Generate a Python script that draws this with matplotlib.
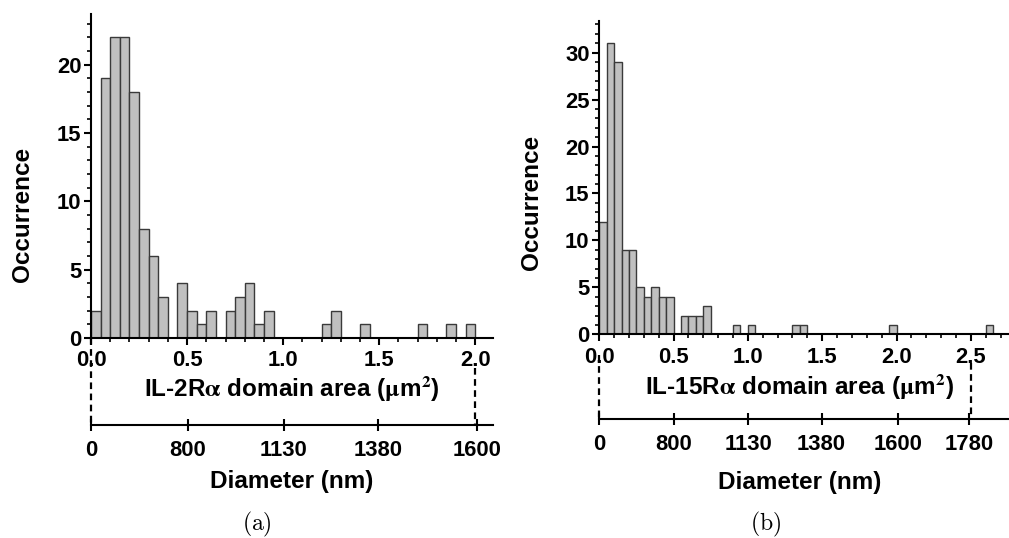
import numpy as np
import matplotlib
matplotlib.use("Agg")
import matplotlib.pyplot as plt
from matplotlib.ticker import MultipleLocator
from matplotlib.transforms import blended_transform_factory

# ---- data -----------------------------------------------------------------
BIN_W = 0.05  # histogram bin width (um^2)

# IL-2Ra domain areas, counts per 0.05 um^2 bin starting at 0
counts_il2 = [2, 19, 22, 22, 18, 8, 6, 3, 0, 4,
              2, 1, 2, 0, 2, 3, 4, 1, 2, 0,
              0, 0, 0, 0, 1, 2, 0, 0, 1, 0,
              0, 0, 0, 0, 1, 0, 0, 1, 0, 1]

# IL-15Ra domain areas, counts per 0.05 um^2 bin starting at 0
counts_il15 = [12, 31, 29, 9, 9, 5, 4, 5, 4, 4,
               0, 2, 2, 2, 3, 0, 0, 0, 1, 0,
               1, 0, 0, 0, 0, 0, 1, 1, 0, 0,
               0, 0, 0, 0, 0, 0, 0, 0, 0, 1,
               0, 0, 0, 0, 0, 0, 0, 0, 0, 0,
               0, 0, 1]

diam_ticks_il2 = [0, 800, 1130, 1380, 1600]
diam_ticks_il15 = [0, 800, 1130, 1380, 1600, 1780]

xlabel_il2 = r"IL-2R$\mathrm{\alpha}$ domain area ($\mathrm{\mu}$m$^{\mathbf{2}}$)"
xlabel_il15 = r"IL-15R$\mathrm{\alpha}$ domain area ($\mathrm{\mu}$m$^{\mathbf{2}}$)"

# ---- style ----------------------------------------------------------------
plt.rcParams["font.family"] = ["Liberation Sans", "DejaVu Sans"]
plt.rcParams["font.weight"] = "bold"
plt.rcParams["axes.labelweight"] = "bold"
plt.rcParams["mathtext.fontset"] = "stix"

TICK_FS = 15.8
LABEL_FS = 17.5
BAR_FACE = "#c0c0c0"
BAR_EDGE = "#3a3a3a"
LW = 1.5


def area_to_diam(a):
    a = np.asarray(a, dtype=float)
    return 2000.0 * np.sqrt(np.clip(a, 0, None) / np.pi)


def diam_to_area(d):
    d = np.asarray(d, dtype=float)
    return np.pi * (np.clip(d, 0, None) / 2000.0) ** 2


def draw_panel(ax, counts, xmax, ymax, xlabel, diam_ticks, diam_loc,
               dash_specs, ylabel_xy, xlabel_xy, diam_label_y):
    counts = np.asarray(counts)
    left = np.arange(len(counts)) * BIN_W
    keep = counts > 0
    ax.bar(left[keep], counts[keep], width=BIN_W, align="edge",
           color=BAR_FACE, edgecolor=BAR_EDGE, linewidth=1.0, zorder=1)

    ax.set_xlim(0, xmax)
    ax.set_ylim(0, ymax)
    for s in ("top", "right"):
        ax.spines[s].set_visible(False)
    for s in ("left", "bottom"):
        ax.spines[s].set_linewidth(LW)
        ax.spines[s].set_zorder(3)

    ax.xaxis.set_major_locator(MultipleLocator(0.5))
    ax.xaxis.set_minor_locator(MultipleLocator(0.1))
    ax.yaxis.set_major_locator(MultipleLocator(5))
    ax.yaxis.set_minor_locator(MultipleLocator(1))
    ax.xaxis.set_major_formatter(plt.FormatStrFormatter("%.1f"))
    ax.tick_params(which="major", direction="out", length=5, width=LW,
                   labelsize=TICK_FS, pad=2)
    ax.tick_params(which="minor", direction="out", length=3, width=1.2)
    ax.tick_params(axis="x", which="major", pad=4)

    ax.set_ylabel("Occurrence", fontsize=LABEL_FS)
    ax.yaxis.label.set_va("center")
    ax.yaxis.set_label_coords(*ylabel_xy)

    ax.set_xlabel(xlabel, fontsize=LABEL_FS)
    ax.xaxis.label.set_va("center")
    ax.xaxis.set_label_coords(*xlabel_xy)

    # diameter scale below the area axis
    sec = ax.secondary_xaxis(diam_loc, functions=(area_to_diam, diam_to_area))
    sec.set_xticks(diam_ticks)
    sec.set_xticklabels([str(t) for t in diam_ticks])
    sec.spines["bottom"].set_linewidth(LW)
    sec.tick_params(which="major", direction="inout", length=9, width=LW,
                    labelsize=TICK_FS, pad=6)
    sec.set_xlabel("Diameter (nm)", fontsize=LABEL_FS)
    sec.xaxis.label.set_va("center")
    sec.xaxis.set_label_coords(xlabel_xy[0], diam_label_y,
                               transform=ax.transAxes)

    # dashed connectors between the two scales
    trans = blended_transform_factory(ax.transData, ax.transAxes)
    for xv, y0 in dash_specs:
        ax.plot([xv, xv], [y0, diam_loc], transform=trans, clip_on=False,
                color="black", lw=1.6, ls=(0, (3, 2)), zorder=4)


fig = plt.figure(figsize=(10.09, 5.38), dpi=100)

# panel (a)
ax1 = fig.add_axes([91 / 1009, 1 - 338 / 538, 402 / 1009, 324 / 538])
draw_panel(ax1, counts_il2, xmax=2.092, ymax=23.7, xlabel=xlabel_il2,
           diam_ticks=diam_ticks_il2, diam_loc=-0.2685,
           dash_specs=[(0.0, 0.0), (2.0, -0.093)],
           ylabel_xy=(-0.170, 0.38), xlabel_xy=(0.5, -0.155),
           diam_label_y=-0.444)

# panel (b)
ax2 = fig.add_axes([599.3 / 1009, 1 - 334.3 / 538, 409.7 / 1009, 313.6 / 538])
draw_panel(ax2, counts_il15, xmax=2.757, ymax=33.4, xlabel=xlabel_il15,
           diam_ticks=diam_ticks_il15, diam_loc=-0.271,
           dash_specs=[(0.0, -0.066), (2.5, -0.0915)],
           ylabel_xy=(-0.165, 0.42), xlabel_xy=(0.49, -0.165),
           diam_label_y=-0.471)

# panel captions
fig.text(257 / 1009, 1 - 524 / 538, r"$\mathrm{(a)}$", math_fontfamily="cm",
         fontsize=17, ha="center", va="center")
fig.text(766 / 1009, 1 - 524 / 538, r"$\mathrm{(b)}$", math_fontfamily="cm",
         fontsize=17, ha="center", va="center")

fig.savefig("out.png", dpi=100)
